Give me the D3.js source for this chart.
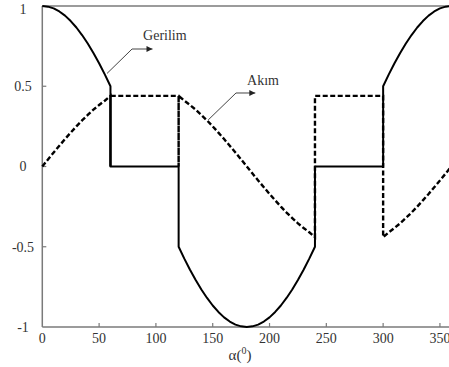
<!DOCTYPE html>
<html>
<head>
<meta charset="utf-8">
<script src="https://cdn.jsdelivr.net/npm/d3@7"></script>
<style>
  body { margin: 0; background: #fff; }
  svg { display: block; }
</style>
</head>
<body>
<div id="chart"></div>
<script>
// Gerilim (solid) - alpha in degrees, value
const gerilimAlpha = [0, 5, 10, 15, 20, 25, 30, 35, 40, 45, 50, 55, 60,
  60, 120,
  120, 125, 130, 135, 140, 145, 150, 155, 160, 165, 170, 175, 180,
  185, 190, 195, 200, 205, 210, 215, 220, 225, 230, 235, 240,
  240, 300,
  300, 305, 310, 315, 320, 325, 330, 335, 340, 345, 350, 355, 360];
const gerilimValues = [1, 0.996, 0.985, 0.966, 0.94, 0.906, 0.866, 0.819, 0.766, 0.707, 0.643, 0.574, 0.5,
  0, 0,
  -0.5, -0.574, -0.643, -0.707, -0.766, -0.819, -0.866, -0.906, -0.94, -0.966, -0.985, -0.996, -1,
  -0.996, -0.985, -0.966, -0.94, -0.906, -0.866, -0.819, -0.766, -0.707, -0.643, -0.574, -0.5,
  0, 0,
  0.5, 0.574, 0.643, 0.707, 0.766, 0.819, 0.866, 0.906, 0.94, 0.966, 0.985, 0.996, 1];

// Akım (dashed)
const akimAlpha = [0, 5, 10, 15, 20, 25, 30, 35, 40, 45, 50, 55, 60,
  60, 60, 120, 120, 120,
  125, 130, 135, 140, 145, 150, 155, 160, 165, 170, 175, 180,
  185, 190, 195, 200, 205, 210, 215, 220, 225, 230, 235, 240,
  240, 300, 300,
  305, 310, 315, 320, 325, 330, 335, 340, 345, 350, 355, 360];
const akimValues = [0, 0.044, 0.087, 0.129, 0.171, 0.211, 0.25, 0.287, 0.321, 0.354, 0.383, 0.41, 0.44,
  0, 0.44, 0.44, 0, 0.44,
  0.41, 0.383, 0.354, 0.321, 0.287, 0.25, 0.211, 0.171, 0.129, 0.087, 0.044, 0,
  -0.044, -0.087, -0.129, -0.171, -0.211, -0.25, -0.287, -0.321, -0.354, -0.383, -0.41, -0.44,
  0.44, 0.44, -0.44,
  -0.41, -0.383, -0.354, -0.321, -0.287, -0.25, -0.211, -0.171, -0.129, -0.087, -0.044, 0];

const xTicks = [0, 50, 100, 150, 200, 250, 300, 350];
const yTicks = [1, 0.5, 0, -0.5, -1];
const yTickLabels = ['1', '0.5', '0', '-0.5', '-1'];

// annotations: label, label position, arrow points (data units)
const notes = [
  { text: 'Gerilim', at: [88.7, 0.79], path: [[57, 0.58], [79, 0.732], [97, 0.732]] },
  { text: 'Akım', at: [180.2, 0.51], path: [[146, 0.29], [170.5, 0.458], [187.5, 0.458]] }
];

const width = 449, height = 367;
const serif = 'Liberation Serif';

const svg = d3.select('#chart').append('svg')
  .attr('width', width)
  .attr('height', height);

const x = d3.scaleLinear().domain([0, 360]).range([42.3, 451.3]);
const y = d3.scaleLinear().domain([-1, 1]).range([327, 6]);

const axisColor = '#7a7a7a';

// frame: top, bottom, left
svg.append('line').attr('x1', x(0)).attr('x2', width).attr('y1', y(1)).attr('y2', y(1))
  .attr('stroke', axisColor).attr('stroke-width', 1.5);
svg.append('line').attr('x1', x(0)).attr('x2', width).attr('y1', y(-1)).attr('y2', y(-1))
  .attr('stroke', axisColor).attr('stroke-width', 1.5);
svg.append('line').attr('x1', x(0)).attr('x2', x(0)).attr('y1', y(1)).attr('y2', y(-1))
  .attr('stroke', axisColor).attr('stroke-width', 1.5);

// x ticks (inward) + labels
svg.selectAll('line.xtick')
  .data(xTicks.filter(d => d > 0))
  .enter().append('line')
  .attr('class', 'xtick')
  .attr('x1', d => x(d)).attr('x2', d => x(d))
  .attr('y1', y(-1)).attr('y2', y(-1) - 4)
  .attr('stroke', axisColor).attr('stroke-width', 1.2);

svg.selectAll('text.xlab')
  .data(xTicks)
  .enter().append('text')
  .attr('class', 'xlab')
  .attr('x', d => x(d))
  .attr('y', 343)
  .attr('text-anchor', 'middle')
  .attr('font-family', serif)
  .attr('font-size', 14)
  .attr('fill', '#333')
  .text(d => d);

// y ticks (inward) + labels
svg.selectAll('line.ytick')
  .data(yTicks.filter(d => d !== 1 && d !== -1))
  .enter().append('line')
  .attr('class', 'ytick')
  .attr('x1', x(0)).attr('x2', x(0) + 4)
  .attr('y1', d => y(d)).attr('y2', d => y(d))
  .attr('stroke', axisColor).attr('stroke-width', 1.2);

svg.selectAll('text.ylab')
  .data(yTicks)
  .enter().append('text')
  .attr('class', 'ylab')
  .attr('x', 23)
  .attr('y', d => Math.max(y(d), 9))
  .attr('dy', '0.35em')
  .attr('text-anchor', 'middle')
  .attr('font-family', serif)
  .attr('font-size', 14)
  .attr('fill', '#333')
  .text((d, i) => yTickLabels[i]);

// axis title
const title = svg.append('text')
  .attr('x', 240)
  .attr('y', 360)
  .attr('text-anchor', 'middle')
  .attr('font-family', serif)
  .attr('font-size', 15)
  .attr('fill', '#333');
title.append('tspan').text('α(');
title.append('tspan').attr('font-size', 10).attr('dy', -6).text('0');
title.append('tspan').attr('dy', 6).text(')');

// series
const line = d3.line().x(d => x(d[0])).y(d => y(d[1]));

svg.append('path')
  .datum(gerilimAlpha.map((a, i) => [a, gerilimValues[i]]))
  .attr('d', line)
  .attr('fill', 'none')
  .attr('stroke', '#000')
  .attr('stroke-width', 2)
  .attr('stroke-linejoin', 'round');

svg.append('path')
  .datum(akimAlpha.map((a, i) => [a, akimValues[i]]))
  .attr('d', line)
  .attr('fill', 'none')
  .attr('stroke', '#000')
  .attr('stroke-width', 2.4)
  .attr('stroke-dasharray', '5,2.5');

// annotations
const defs = svg.append('defs');
defs.append('marker')
  .attr('id', 'arrow')
  .attr('viewBox', '0 0 10 10')
  .attr('refX', 10).attr('refY', 5)
  .attr('markerWidth', 8).attr('markerHeight', 6)
  .attr('markerUnits', 'userSpaceOnUse')
  .attr('orient', 'auto')
  .append('path')
  .attr('d', 'M0,0L10,5L0,10Z')
  .attr('fill', '#222');

const noteLine = d3.line().x(d => x(d[0])).y(d => y(d[1]));

notes.forEach(n => {
  svg.append('path')
    .attr('d', noteLine(n.path))
    .attr('fill', 'none')
    .attr('stroke', '#444')
    .attr('stroke-width', 1)
    .attr('marker-end', 'url(#arrow)');
  svg.append('text')
    .attr('x', x(n.at[0]))
    .attr('y', y(n.at[1]))
    .attr('font-family', serif)
    .attr('font-size', 14)
    .attr('fill', '#333')
    .text(n.text);
});
</script>
</body>
</html>
